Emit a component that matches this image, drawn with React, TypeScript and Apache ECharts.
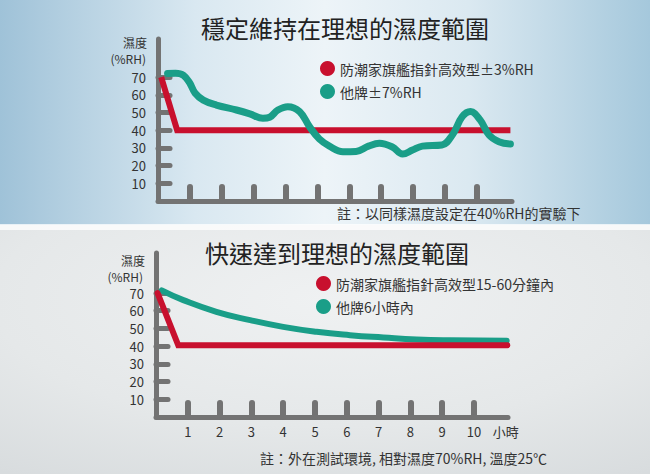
import React, { useEffect, useRef } from "react";
import * as echarts from "echarts";

// ---------- data ----------
const topTitle = "穩定維持在理想的濕度範圍";
const bottomTitle = "快速達到理想的濕度範圍";
const topNames = ["防潮家旗艦指針高效型±3%RH", "他牌±7%RH"];
const bottomNames = ["防潮家旗艦指針高效型15-60分鐘內", "他牌6小時內"];
const topNote = "註：以同樣濕度設定在40%RH的實驗下";
const bottomNote = "註：外在測試環境, 相對濕度70%RH, 溫度25℃";
const yNameTop = "濕度";
const yNameUnit = "(%RH)";
const yTickValues = [10, 20, 30, 40, 50, 60, 70];
const xTickValues = [1, 2, 3, 4, 5, 6, 7, 8, 9, 10];
const xLabelValues = [1, 2, 3, 4, 5, 6, 7, 8, 9, 10, 11];
const xUnitLabel = "小時";

const topRed: [number, number][] = [
  [0.1, 70],
  [0.6, 40],
  [11.05, 40],
];
const topGreen: [number, number][] = [
  [0.3, 72], [0.55, 72.2], [0.8, 71], [1.0, 66.5], [1.16, 61], [1.42, 57],
  [1.83, 54.2], [2.46, 51.4], [2.88, 49.2], [3.29, 46.7], [3.5, 47.3],
  [3.76, 51.4], [4.07, 53.3], [4.44, 50.5], [4.75, 42], [5.06, 35],
  [5.375, 31], [5.8, 27.8], [6.21, 28], [6.6, 31], [6.94, 32.6],
  [7.35, 30.5], [7.67, 26.5], [7.98, 28.8], [8.29, 31], [8.9, 31.6],
  [9.23, 37.3], [9.54, 47.6], [9.8, 50.5], [10.1, 45.8], [10.38, 37.3],
  [10.69, 33.5], [11.05, 32.2],
];
const bottomRed: [number, number][] = [
  [0.05, 70],
  [0.7, 40.5],
  [11.05, 40.5],
];
const bottomGreen: [number, number][] = [
  [0.18, 71.5], [0.86, 66], [1.9, 59.4], [2.96, 54.7], [4.0, 50.9],
  [5.05, 48.1], [6.1, 46.2], [7.15, 44.9], [8.2, 43.8], [9.25, 43.3],
  [11.03, 43],
];

const RED = "#c8102e";
const GREEN = "#1a9e88";
const AXIS = "#737373";
const TEXT = "#333333";
const FONT = "'Noto Sans CJK TC', 'Noto Sans', sans-serif";

function makeYAxis(gridIndex: number, max: number) {
  return {
    type: "value",
    gridIndex,
    min: 0,
    max,
    splitLine: { show: false },
    axisLine: { show: true, lineStyle: { color: AXIS, width: 5 } },
    axisTick: {
      show: true,
      inside: true,
      length: 12,
      customValues: yTickValues,
      lineStyle: { color: AXIS, width: 5, cap: "round" },
    },
    axisLabel: {
      show: true,
      customValues: yTickValues,
      margin: 12,
      color: TEXT,
      fontSize: 13,
      fontFamily: FONT,
    },
  };
}

function makeXAxis(gridIndex: number, max: number, labels: boolean) {
  return {
    type: "value",
    gridIndex,
    min: 0,
    max,
    splitLine: { show: false },
    axisLine: { show: true, lineStyle: { color: AXIS, width: 5 } },
    axisTick: {
      show: true,
      inside: true,
      length: 14,
      customValues: xTickValues,
      lineStyle: { color: AXIS, width: 6, cap: "round" },
    },
    axisLabel: {
      show: labels,
      customValues: xLabelValues,
      margin: 8,
      color: TEXT,
      fontSize: 13,
      fontFamily: FONT,
      formatter: (v: number) => (v === 11 ? xUnitLabel : String(v)),
    },
  };
}

function legendCfg(names: string[], left: number, top: number) {
  return {
    data: names,
    orient: "vertical",
    left,
    top,
    padding: 0,
    icon: "circle",
    itemWidth: 15,
    itemHeight: 15,
    itemGap: 8,
    selectedMode: false,
    textStyle: { color: TEXT, fontSize: 14, fontFamily: FONT },
  };
}

function smallText(text: string, x: number, y: number, size: number) {
  return {
    type: "text",
    z: 10,
    x,
    y,
    style: {
      text,
      fill: TEXT,
      font: `${size}px ${FONT}`,
      lineHeight: size,
      align: "right",
      verticalAlign: "middle",
    },
  };
}

export default function App() {
  const ref = useRef<HTMLDivElement>(null);

  useEffect(() => {
    if (!ref.current) return;
    const chart = echarts.init(ref.current, undefined, { renderer: "svg" });
    const option: any = {
      animation: false,
      textStyle: { fontFamily: FONT },
      title: [
        {
          text: topTitle,
          left: 201,
          top: 15,
          padding: 0,
          textStyle: { fontSize: 24, fontWeight: "normal", color: "#222", fontFamily: FONT },
        },
        {
          text: bottomTitle,
          left: 205,
          top: 240,
          padding: 0,
          textStyle: { fontSize: 24, fontWeight: "normal", color: "#222", fontFamily: FONT },
        },
      ],
      legend: [legendCfg(topNames, 320, 61), legendCfg(bottomNames, 316, 276)],
      grid: [
        { left: 158, right: 138, top: 39, bottom: 273, containLabel: false },
        { left: 156, right: 142, top: 253, bottom: 57, containLabel: false },
      ],
      xAxis: [makeXAxis(0, 11.1, false), makeXAxis(1, 11.07, true)],
      yAxis: [makeYAxis(0, 91.5), makeYAxis(1, 92.6)],
      graphic: [
        {
          type: "rect",
          z: -10,
          silent: true,
          shape: { x: 0, y: 0, width: 650, height: 225 },
          style: {
            fill: {
              type: "linear",
              x: 0, y: 0, x2: 1, y2: 0,
              colorStops: [
                { offset: 0, color: "#9fc2d8" },
                { offset: 0.3, color: "#d9e8f1" },
                { offset: 0.5, color: "#edf4f8" },
                { offset: 0.72, color: "#dbe9f1" },
                { offset: 1, color: "#a5c8dc" },
              ],
            },
          },
        },
        {
          type: "rect",
          z: -10,
          silent: true,
          shape: { x: 0, y: 225, width: 650, height: 249 },
          style: {
            fill: {
              type: "radial",
              x: 0.5, y: 0.3, r: 0.85,
              colorStops: [
                { offset: 0, color: "#eff1f2" },
                { offset: 0.6, color: "#e5e8e9" },
                { offset: 1, color: "#d8dcde" },
              ],
            },
          },
        },
        {
          type: "rect",
          z: -9,
          silent: true,
          shape: { x: 0, y: 224, width: 650, height: 6 },
          style: { fill: "rgba(255,255,255,0.75)" },
        },
        smallText(yNameTop, 147, 42, 12),
        smallText(yNameUnit, 146, 58, 12),
        smallText(yNameTop, 145, 260, 12),
        smallText(yNameUnit, 143, 276, 12),
        {
          type: "text",
          z: 10,
          x: 337,
          y: 213,
          style: { text: topNote, fill: TEXT, font: `14px ${FONT}`, align: "left", verticalAlign: "middle" },
        },
        {
          type: "text",
          z: 10,
          x: 260,
          y: 458,
          style: { text: bottomNote, fill: TEXT, font: `14px ${FONT}`, align: "left", verticalAlign: "middle" },
        },
      ],
      series: [
        {
          name: topNames[0],
          type: "line",
          xAxisIndex: 0,
          yAxisIndex: 0,
          data: topRed,
          showSymbol: false,
          symbol: "none",
          color: RED,
          lineStyle: { color: RED, width: 6, cap: "butt", join: "miter" },
          z: 3,
        },
        {
          name: topNames[1],
          type: "line",
          xAxisIndex: 0,
          yAxisIndex: 0,
          data: topGreen,
          smooth: 0.4,
          showSymbol: false,
          symbol: "none",
          color: GREEN,
          lineStyle: { color: GREEN, width: 7, cap: "round" },
          z: 4,
        },
        {
          name: bottomNames[0],
          type: "line",
          xAxisIndex: 1,
          yAxisIndex: 1,
          data: bottomRed,
          showSymbol: false,
          symbol: "none",
          color: RED,
          lineStyle: { color: RED, width: 6, cap: "round", join: "miter" },
          z: 4,
        },
        {
          name: bottomNames[1],
          type: "line",
          xAxisIndex: 1,
          yAxisIndex: 1,
          data: bottomGreen,
          smooth: 0.5,
          showSymbol: false,
          symbol: "none",
          color: GREEN,
          lineStyle: { color: GREEN, width: 6, cap: "round" },
          z: 3,
        },
      ],
    };
    chart.setOption(option);
    return () => {
      chart.dispose();
    };
  }, []);

  return (
    <div
      ref={ref}
      style={{ position: "absolute", left: 0, top: 0, width: 650, height: 474 }}
    />
  );
}
